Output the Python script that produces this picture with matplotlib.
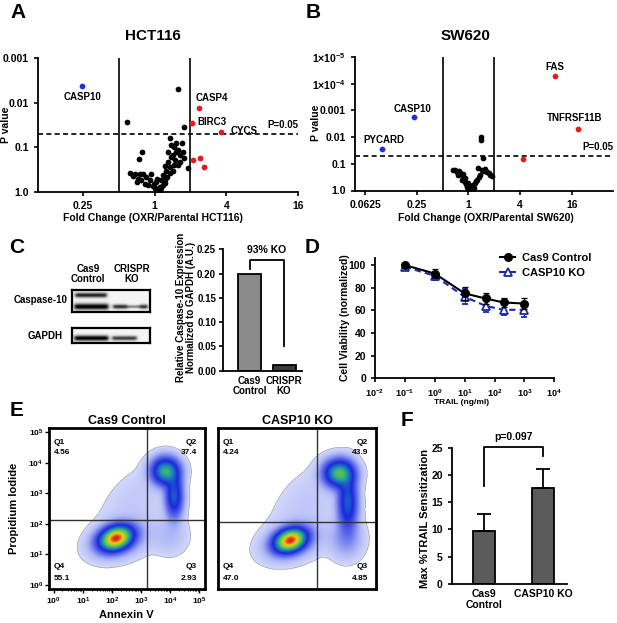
import numpy as np
import matplotlib
matplotlib.use('Agg')
import matplotlib.pyplot as plt
from matplotlib.colors import LinearSegmentedColormap, PowerNorm
from matplotlib.lines import Line2D
from matplotlib.ticker import FixedLocator

plt.rcParams['font.family'] = ['Liberation Sans', 'DejaVu Sans']
plt.rcParams['font.weight'] = 'bold'
plt.rcParams['axes.labelweight'] = 'bold'
plt.rcParams['axes.linewidth'] = 1.3
plt.rcParams['xtick.major.width'] = 1.2
plt.rcParams['ytick.major.width'] = 1.2
plt.rcParams['xtick.major.size'] = 3
plt.rcParams['ytick.major.size'] = 3
plt.rcParams['mathtext.fontset'] = 'custom'
plt.rcParams['mathtext.rm'] = 'Liberation Sans:bold'
plt.rcParams['mathtext.bf'] = 'Liberation Sans:bold'
plt.rcParams['mathtext.default'] = 'bf'

# ---------------- DATA ----------------
# Panel A (HCT116): log2 fold change, log10 p-value
hct_black_log2fc = [0.65, -0.77, 0.81, 0.44, 0.60, 0.77, 0.46, -0.35, 0.37, 0.60, 0.79, -0.44, 0.46,
                    0.37, 0.56, 0.83, 0.28, 0.42, 0.93, -0.69, -0.42, -0.32, -0.23, 0.23, 0.32, -0.37,
                    -0.14, 0.05, 0.19, -0.05, 0.14, 0.23, 0.05, 0.14, -0.28, -0.19, 0.28, 0.51, 0.65,
                    -0.55, -0.10, 0.00, 0.10, -0.02, 0.08, 0.18, 0.30, 0.35, 0.42, 0.50, 0.55, 0.70,
                    0.72, 0.65, 0.55, -0.60, -0.45, -0.50]
hct_black_log10p = [-2.30, -1.57, -1.45, -1.20, -1.10, -1.10, -1.05, -0.90, -0.90, -0.90, -0.90, -0.73, -0.79,
                    -0.68, -0.71, -0.75, -0.58, -0.55, -0.53, -0.42, -0.41, -0.41, -0.34, -0.38, -0.47, -0.27,
                    -0.27, -0.23, -0.27, -0.13, -0.12, -0.16, -0.04, -0.02, -0.19, -0.16, -0.27, -0.83, -0.60,
                    -0.41, -0.41, -0.08, -0.06, -0.18, -0.30, -0.08, -0.20, -0.33, -0.42, -0.48, -0.60, -0.68,
                    -0.82, -0.95, -1.00, -0.35, -0.30, -0.22]
hct_up_log2fc = [1.25, 1.05, 1.86, 1.08, 1.28, 1.39]
hct_up_log10p = [-1.88, -1.54, -1.34, -0.72, -0.76, -0.56]
hct_down_log2fc = [-2.03]
hct_down_log10p = [-2.37]

# Panel B (SW620)
sw_black_log2fc = [0.49, 0.48, 0.56, -0.58, -0.45, -0.32, -0.19, -0.13, -0.06, 0.07, 0.19, 0.33, 0.45,
                   0.52, 0.71, 0.84, 0.39, -0.26, -0.39, 0.00, 0.13, 0.26, -0.50, -0.35, -0.22, -0.10,
                   0.00, 0.10, 0.20, 0.30, 0.40, 0.60, 0.78, 0.90, 0.65, -0.15, 0.05]
sw_black_log10p = [-2.01, -1.89, -1.21, -0.77, -0.70, -0.64, -0.52, -0.33, -0.14, -0.08, -0.21, -0.39, -0.58,
                   -0.77, -0.70, -0.58, -0.83, -0.39, -0.58, -0.27, -0.14, -0.27, -0.75, -0.72, -0.60, -0.25,
                   -0.05, -0.02, -0.10, -0.35, -0.50, -0.72, -0.65, -0.55, -0.80, -0.45, -0.18]
sw_up_log2fc = [3.36, 4.26, 2.13]
sw_up_log10p = [-4.28, -2.29, -1.18]
sw_down_log2fc = [-2.12, -3.34]
sw_down_log10p = [-2.75, -1.54]

# Panel C bar
c_groups = ['Cas9\nControl', 'CRISPR\nKO']
c_values = [0.20, 0.012]

# Panel D
trail_dose = [0.1, 1, 10, 50, 200, 1000]
cas9_viab = [100, 92.5, 75, 70.5, 67, 66]
cas9_err = [2, 4, 6, 4.5, 4, 5]
ko_viab = [98.5, 90.5, 72, 64, 60.5, 60.5]
ko_err = [2.5, 3.5, 6.5, 5, 5, 6]

# Panel E quadrant percentages (Q1, Q2, Q3, Q4)
e_titles = ['Cas9 Control', 'CASP10 KO']
e_quads = [['4.56', '37.4', '2.93', '55.1'], ['4.24', '43.9', '4.85', '47.0']]
e_gate_x = [3.2, 3.2]     # log10 Annexin V gate
e_gate_y = [2.12, 2.06]   # log10 PI gate
# event clusters (log10 x, log10 y, sd x, sd y, rho, weight)
e_clusters = [
    [(2.15, 1.52, 0.34, 0.24, 0.25, 0.50), (3.85, 3.72, 0.28, 0.26, 0.0, 0.22),
     (4.15, 2.90, 0.18, 0.42, 0.0, 0.14), (2.80, 2.70, 0.85, 0.85, 0.5, 0.05),
     (2.30, 1.45, 0.65, 0.40, 0.3, 0.07), (4.00, 1.60, 0.40, 0.40, 0.0, 0.02)],
    [(2.30, 1.45, 0.32, 0.23, 0.25, 0.42), (3.95, 3.65, 0.30, 0.26, 0.0, 0.24),
     (4.25, 2.70, 0.20, 0.55, 0.0, 0.19), (2.90, 2.70, 0.85, 0.85, 0.5, 0.05),
     (2.40, 1.40, 0.65, 0.40, 0.3, 0.07), (4.20, 1.50, 0.35, 0.40, 0.0, 0.04)],
]

# Panel F
f_groups = ['Cas9\nControl', 'CASP10 KO']
f_values = [9.8, 17.6]
f_err = [3.0, 3.5]

# ---------------- FIGURE ----------------
W, H = 617, 623
fig = plt.figure(figsize=(W / 100, H / 100), dpi=100)


def box(l, t, r, b):
    return fig.add_axes([l / W, 1 - b / H, (r - l) / W, (b - t) / H])


def ftext(x, y, s, **kw):
    fig.text(x / W, 1 - y / H, s, **kw)


RED = '#e8191c'
BLUE = '#1f2fe0'
TS = 7.5


def style_lb(ax, ts=TS):
    for s in ['top', 'right']:
        ax.spines[s].set_visible(False)
    ax.tick_params(labelsize=ts, width=1.2, length=3)
    for lab in ax.get_xticklabels() + ax.get_yticklabels():
        lab.set_fontweight('bold')


def volcano(ax, bl, bp, ul, up, dl, dp, xlim, ylim, xticks, xlabels, yticks, ylabels):
    ax.scatter(2.0 ** np.array(bl), 10.0 ** np.array(bp), s=17, color='black', zorder=3, linewidths=0)
    ax.scatter(2.0 ** np.array(ul), 10.0 ** np.array(up), s=17, color=RED, zorder=3, linewidths=0)
    ax.scatter(2.0 ** np.array(dl), 10.0 ** np.array(dp), s=17, color=BLUE, zorder=3, linewidths=0)
    ax.set_xscale('log', base=2)
    ax.set_yscale('log')
    ax.set_xlim(*xlim)
    ax.set_ylim(*ylim)
    ax.axvline(0.5, color='black', lw=1.2)
    ax.axvline(2.0, color='black', lw=1.2)
    ax.axhline(0.05, color='black', lw=1.2, ls=(0, (3, 2)))
    ax.xaxis.set_major_locator(FixedLocator(xticks))
    ax.set_xticklabels(xlabels)
    ax.yaxis.set_major_locator(FixedLocator(yticks))
    ax.set_yticklabels(ylabels)
    ax.minorticks_off()
    style_lb(ax)


# Panel A
axA = box(38, 58, 298, 192)
volcano(axA, hct_black_log2fc, hct_black_log10p, hct_up_log2fc, hct_up_log10p,
        hct_down_log2fc, hct_down_log10p, (0.105, 16), (1.0, 0.001),
        [0.25, 1, 4, 16], ['0.25', '1', '4', '16'], [0.001, 0.01, 0.1, 1.0],
        ['0.001', '0.01', '0.1', '1.0'])
ftext(83, 97, 'CASP10', fontsize=7, ha='center', va='center')
ftext(196, 98, 'CASP4', fontsize=7, ha='left', va='center')
ftext(197, 122, 'BIRC3', fontsize=7, ha='left', va='center')
ftext(231, 131, 'CYCS', fontsize=7, ha='left', va='center')
ftext(298, 125, 'P=0.05', fontsize=7, ha='right', va='center')
ftext(153, 36, 'HCT116', fontsize=11, ha='center', va='center')
ftext(6, 125, 'P value', fontsize=7.5, ha='center', va='center', rotation=90)
ftext(153, 218, 'Fold Change (OXR/Parental HCT116)', fontsize=7.5, ha='center', va='center')
ftext(18, 13, 'A', fontsize=15, ha='center', va='center')

# Panel B
axB = box(355, 57, 613, 190.5)
volcano(axB, sw_black_log2fc, sw_black_log10p, sw_up_log2fc, sw_up_log10p,
        sw_down_log2fc, sw_down_log10p, (0.0477, 48.5), (1.0, 1e-5),
        [0.0625, 0.25, 1, 4, 16], ['0.0625', '0.25', '1', '4', '16'],
        [1e-5, 1e-4, 1e-3, 1e-2, 0.1, 1.0],
        [r'1$\times$10$^{-5}$', r'1$\times$10$^{-4}$', '0.001', '0.01', '0.1', '1.0'])
ftext(555, 67, 'FAS', fontsize=7, ha='center', va='center')
ftext(575, 118, 'TNFRSF11B', fontsize=7, ha='center', va='center')
ftext(413, 109, 'CASP10', fontsize=7, ha='center', va='center')
ftext(384, 140, 'PYCARD', fontsize=7, ha='center', va='center')
ftext(613, 147, 'P=0.05', fontsize=7, ha='right', va='center')
ftext(466, 36, 'SW620', fontsize=11, ha='center', va='center')
ftext(316, 123, 'P value', fontsize=7.5, ha='center', va='center', rotation=90)
ftext(486, 218, 'Fold Change (OXR/Parental SW620)', fontsize=7.5, ha='center', va='center')
ftext(313, 12, 'B', fontsize=15, ha='center', va='center')

# Panel C - blot (illustrative band images)
ftext(17, 247, 'C', fontsize=15, ha='center', va='center')
ftext(88, 274, 'Cas9\nControl', fontsize=7, ha='center', va='center', linespacing=1.1)
ftext(132, 274, 'CRISPR\nKO', fontsize=7, ha='center', va='center', linespacing=1.1)
ftext(67, 300, 'Caspase-10', fontsize=7, ha='right', va='center')
ftext(63, 336, 'GAPDH', fontsize=7, ha='right', va='center')


def blot(ax, bands):
    xx, yy = np.meshgrid(np.linspace(0, 1, 300), np.linspace(0, 1, 80))
    img = np.full(xx.shape, 0.04)
    for x0, x1, yc, th, inten in bands:
        prof_x = 1 / (1 + np.exp(-(xx - x0) / 0.012)) * 1 / (1 + np.exp((xx - x1) / 0.012))
        prof_y = np.exp(-((yy - yc) / th) ** 2)
        img = img + inten * prof_x * prof_y
    ax.imshow(np.clip(img, 0, 1), cmap='gray_r', vmin=0, vmax=1, extent=(0, 1, 0, 1),
              origin='lower', aspect='auto', interpolation='bilinear')
    ax.set_xticks([])
    ax.set_yticks([])
    for s in ax.spines.values():
        s.set_linewidth(1.6)


axC1 = box(71.7, 290, 150, 311.7)
blot(axC1, [(0.04, 0.44, 0.77, 0.11, 0.85), (0.03, 0.46, 0.24, 0.14, 1.0),
            (0.52, 0.70, 0.24, 0.10, 0.8), (0.70, 0.86, 0.24, 0.07, 0.45),
            (0.86, 0.96, 0.24, 0.10, 0.8)])
axC2 = box(71.7, 327.7, 150, 343.3)
blot(axC2, [(0.03, 0.46, 0.30, 0.17, 1.0), (0.51, 0.82, 0.30, 0.14, 0.75)])

# Panel C - bar
axC3 = box(223, 249.3, 301.7, 370.7)
axC3.bar([0, 1], c_values, width=0.67, color=['#8a8a8a', '#3c3c3c'], edgecolor='black', linewidth=1.3)
axC3.set_xlim(-0.77, 1.51)
axC3.set_ylim(0, 0.25)
axC3.set_yticks([0, 0.05, 0.10, 0.15, 0.20, 0.25])
axC3.set_yticklabels(['0.00', '0.05', '0.10', '0.15', '0.20', '0.25'])
axC3.set_xticks([0, 1])
axC3.set_xticklabels(c_groups, linespacing=1.1)
style_lb(axC3, ts=7)
axC3.tick_params(axis='y', pad=2)
axC3.tick_params(axis='x', length=0, labelsize=7)
axC3.plot([0, 0, 1, 1], [0.21, 0.228, 0.228, 0.05], color='black', lw=1.3, clip_on=False)
axC3.text(0.5, 0.238, '93% KO', ha='center', va='bottom', fontsize=7.5)
ftext(186, 307, 'Relative Caspase-10 Expression\nNormalized to GAPDH (A.U.)', fontsize=7,
      ha='center', va='center', rotation=90, linespacing=1.05)

# Panel D
ftext(312, 247, 'D', fontsize=15, ha='center', va='center')
axD = box(375, 258.3, 554.3, 378.3)
axD.errorbar(trail_dose, cas9_viab, yerr=cas9_err, color='black', marker='o', ms=5.5, lw=1.5,
             capsize=2.5, elinewidth=0.9, capthick=0.9, zorder=3)
axD.errorbar(trail_dose, ko_viab, yerr=ko_err, color='#1a2aa8', marker='^', ms=6, lw=1.5,
             ls=(0, (3, 2)), mfc='white', mec='#1a2aa8', mew=1.3, capsize=2.5, elinewidth=0.9,
             capthick=0.9, zorder=2)
axD.set_xscale('log')
axD.set_xlim(1e-2, 1e4)
axD.set_ylim(0, 106)
axD.set_yticks([0, 20, 40, 60, 80, 100])
axD.xaxis.set_major_locator(FixedLocator([1e-2, 1e-1, 1, 10, 100, 1e3, 1e4]))
axD.set_xticklabels([r'10$^{-2}$', r'10$^{-1}$', r'10$^{0}$', r'10$^{1}$', r'10$^{2}$',
                     r'10$^{3}$', r'10$^{4}$'])
axD.minorticks_off()
style_lb(axD)
axD.tick_params(axis='x', labelsize=6.5)
h1 = Line2D([], [], color='black', marker='o', ms=5.5, lw=1.5)
h2 = Line2D([], [], color='#1a2aa8', marker='^', ms=6, lw=1.5, mfc='white', mew=1.3)
leg = axD.legend([h1, h2], ['Cas9 Control', 'CASP10 KO'], loc='upper left',
                 bbox_to_anchor=(0.64, 1.13), frameon=False, fontsize=8, handlelength=1.4,
                 handletextpad=0.6, labelspacing=0.5)
for t in leg.get_texts():
    t.set_fontweight('bold')
ftext(345, 318, 'Cell Viability (normalized)', fontsize=7.5, ha='center', va='center', rotation=90)
ftext(462, 402, 'TRAIL (ng/ml)', fontsize=6, ha='center', va='center')

# Panel E
ftext(17, 410, 'E', fontsize=15, ha='center', va='center')
cmap = LinearSegmentedColormap.from_list('flow', [
    (0.0, '#eceefe'), (0.15, '#b0b8f6'), (0.3, '#5a68ea'), (0.45, '#1a28d8'),
    (0.58, '#1c70c8'), (0.68, '#30b080'), (0.8, '#90d030'), (0.9, '#f0c820'), (1.0, '#e02010')])
xs = np.linspace(-0.15, 5.2, 360)
ys = np.linspace(-0.14, 5.13, 360)
GX, GY = np.meshgrid(xs, ys)
minor = [np.log10(k) + d for d in range(0, 5) for k in range(2, 10)]
for i, (l, r) in enumerate([(49.3, 205), (218.3, 376)]):
    ax = box(l, 428.3, r, 589.3)
    dens = np.zeros_like(GX)
    for mx, my, sx, sy, rho, w in e_clusters[i]:
        u = (GX - mx) / sx
        v = (GY - my) / sy
        z = (u * u - 2 * rho * u * v + v * v) / (1 - rho ** 2)
        dens += w / (sx * sy) * np.exp(-0.5 * z)
    dens = dens / dens.max()
    dm = np.ma.masked_less(dens, 0.004)
    ax.imshow(dm, cmap=cmap, norm=PowerNorm(0.5, vmin=0, vmax=1), origin='lower',
              extent=(xs[0], xs[-1], ys[0], ys[-1]), aspect='auto', interpolation='bilinear')
    ax.set_xlim(xs[0], xs[-1])
    ax.set_ylim(ys[0], ys[-1])
    ax.axvline(e_gate_x[i], color='#333333', lw=1.0)
    ax.axhline(e_gate_y[i], color='#333333', lw=1.0)
    for s in ax.spines.values():
        s.set_linewidth(2.0)
    q = e_quads[i]
    ax.text(0.03, 0.91, 'Q1', transform=ax.transAxes, fontsize=6, va='center')
    ax.text(0.03, 0.85, q[0], transform=ax.transAxes, fontsize=6, va='center')
    ax.text(0.95, 0.91, 'Q2', transform=ax.transAxes, fontsize=6, va='center', ha='right')
    ax.text(0.95, 0.85, q[1], transform=ax.transAxes, fontsize=6, va='center', ha='right')
    ax.text(0.95, 0.14, 'Q3', transform=ax.transAxes, fontsize=6, va='center', ha='right')
    ax.text(0.95, 0.07, q[2], transform=ax.transAxes, fontsize=6, va='center', ha='right')
    ax.text(0.03, 0.14, 'Q4', transform=ax.transAxes, fontsize=6, va='center')
    ax.text(0.03, 0.07, q[3], transform=ax.transAxes, fontsize=6, va='center')
    ax.set_title(e_titles[i], fontsize=9, fontweight='bold', pad=3)
    if i == 0:
        ax.set_xticks(range(6))
        ax.set_xticklabels([r'10$^{%d}$' % k for k in range(6)])
        ax.set_yticks(range(6))
        ax.set_yticklabels([r'10$^{%d}$' % k for k in range(6)])
        ax.set_xticks(minor, minor=True)
        ax.tick_params(labelsize=6, width=1.0, length=3, pad=1.5)
        ax.tick_params(which='minor', length=1.5, width=0.7)
    else:
        ax.set_xticks([])
        ax.set_yticks([])
ftext(126, 615, 'Annexin V', fontsize=8, ha='center', va='center')
ftext(14, 508, 'Propidium Iodide', fontsize=8, ha='center', va='center', rotation=90)

# Panel F
ftext(407, 420, 'F', fontsize=15, ha='center', va='center')
axF = box(451.7, 447.7, 566.7, 584)
axF.bar([0, 1], f_values, width=0.377, color='#5a5a5a', edgecolor='black', linewidth=1.3,
        yerr=[[0, 0], f_err], error_kw=dict(ecolor='black', elinewidth=1.3, capsize=5, capthick=1.3))
axF.set_xlim(-0.54, 1.40)
axF.set_ylim(0, 25)
axF.set_yticks([0, 5, 10, 15, 20, 25])
axF.set_xticks([0, 1])
axF.set_xticklabels(f_groups, linespacing=1.1)
style_lb(axF)
axF.tick_params(axis='x', length=0, labelsize=7.5)
axF.plot([0, 0, 1, 1], [18, 25.2, 25.2, 23.4], color='black', lw=1.3, clip_on=False)
axF.text(0.5, 26.0, 'p=0.097', ha='center', va='bottom', fontsize=7.5)
ftext(425, 518, 'Max %TRAIL Sensitization', fontsize=8, ha='center', va='center', rotation=90)

fig.savefig('out.png', dpi=100)
